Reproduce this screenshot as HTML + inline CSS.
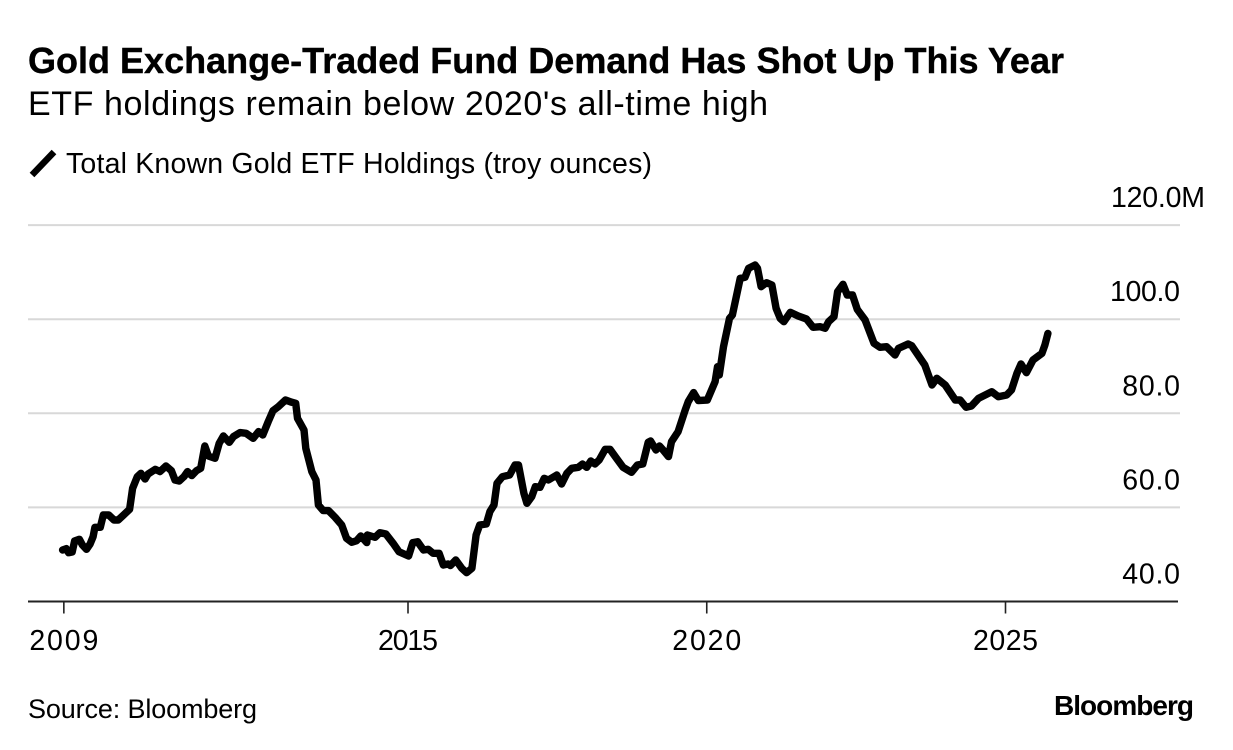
<!DOCTYPE html>
<html lang="en">
<head>
<meta charset="utf-8">
<title>Gold Exchange-Traded Fund Demand Has Shot Up This Year</title>
<style>
html,body{margin:0;padding:0;background:#fff;width:1233px;height:750px;overflow:hidden}
svg{display:block}
text{font-family:"Liberation Sans",Arial,sans-serif;fill:#000}
</style>
</head>
<body>
<svg id="chart" width="1233" height="750" viewBox="0 0 1233 750" xmlns="http://www.w3.org/2000/svg">
<rect x="0" y="0" width="1233" height="750" fill="#fff"/>
<text x="28" y="73" font-size="36" font-weight="700" textLength="1036" lengthAdjust="spacing" stroke="#000" stroke-width="0.4">Gold Exchange-Traded Fund Demand Has Shot Up This Year</text>
<text x="28" y="115" font-size="34" textLength="740" lengthAdjust="spacing">ETF holdings remain below 2020's all-time high</text>
<line x1="32" y1="175" x2="54" y2="152" stroke="#000" stroke-width="6.5"/>
<text x="66" y="173" font-size="28.5" textLength="586" lengthAdjust="spacing">Total Known Gold ETF Holdings (troy ounces)</text>
<g id="grid"></g>
<g id="y-labels"></g>
<g id="x-axis"></g>
<path id="series" fill="none" stroke="#000" stroke-width="7.4" stroke-linejoin="round" stroke-linecap="round"></path>
<text x="28" y="718" font-size="27" textLength="229" lengthAdjust="spacing">Source: Bloomberg</text>
<text x="1054" y="715" font-size="28" font-weight="700" textLength="140" lengthAdjust="spacing">Bloomberg</text>
</svg>
<script>
var years = [2009.22,2009.28,2009.32,2009.38,2009.42,2009.50,2009.55,2009.62,2009.68,2009.73,2009.76,2009.85,2009.90,2009.99,2010.08,2010.15,2010.24,2010.34,2010.39,2010.47,2010.53,2010.60,2010.65,2010.77,2010.85,2010.95,2011.04,2011.10,2011.17,2011.25,2011.31,2011.38,2011.46,2011.53,2011.60,2011.66,2011.77,2011.84,2011.91,2012.01,2012.08,2012.19,2012.29,2012.41,2012.50,2012.57,2012.66,2012.74,2012.83,2012.95,2013.04,2013.12,2013.15,2013.26,2013.29,2013.39,2013.46,2013.50,2013.58,2013.67,2013.78,2013.89,2013.97,2014.06,2014.14,2014.21,2014.31,2014.32,2014.45,2014.53,2014.63,2014.75,2014.85,2015.01,2015.08,2015.16,2015.26,2015.34,2015.42,2015.52,2015.59,2015.67,2015.71,2015.80,2015.90,2015.98,2016.07,2016.14,2016.20,2016.31,2016.37,2016.44,2016.49,2016.58,2016.70,2016.79,2016.85,2016.94,2016.99,2017.07,2017.13,2017.21,2017.28,2017.35,2017.49,2017.57,2017.66,2017.74,2017.85,2017.92,2017.99,2018.06,2018.13,2018.20,2018.30,2018.38,2018.49,2018.60,2018.74,2018.84,2018.93,2019.02,2019.06,2019.15,2019.21,2019.27,2019.36,2019.41,2019.52,2019.64,2019.69,2019.78,2019.86,2020.01,2020.14,2020.18,2020.21,2020.28,2020.38,2020.43,2020.56,2020.64,2020.70,2020.81,2020.85,2020.91,2021.00,2021.09,2021.16,2021.23,2021.29,2021.40,2021.53,2021.67,2021.78,2021.90,2021.98,2022.04,2022.13,2022.19,2022.28,2022.35,2022.44,2022.52,2022.65,2022.80,2022.90,2023.01,2023.15,2023.21,2023.37,2023.43,2023.65,2023.77,2023.85,2023.99,2024.16,2024.24,2024.34,2024.43,2024.55,2024.77,2024.88,2025.02,2025.10,2025.19,2025.26,2025.35,2025.46,2025.61,2025.66,2025.71];
var holdings = [50.95,51.23,50.38,50.52,52.86,53.21,52.01,51.09,52.22,53.78,55.77,55.77,58.39,58.39,57.32,57.32,58.39,59.59,64.05,66.53,67.24,66.04,67.10,68.09,67.60,68.80,67.81,65.83,65.61,66.53,67.60,66.75,67.81,68.31,73.05,70.93,70.43,73.62,75.18,73.83,75.04,75.89,75.74,74.68,76.10,75.39,78.22,80.56,81.41,82.83,82.40,82.12,78.93,76.45,72.56,67.60,65.83,60.51,59.31,59.31,57.89,56.26,53.43,52.58,52.93,53.92,52.51,54.14,53.64,54.63,54.35,52.36,50.59,49.67,52.51,52.72,50.95,51.09,50.24,50.24,47.76,47.97,47.62,48.82,47.05,46.13,47.05,54.14,56.26,56.47,59.10,60.51,65.12,66.53,66.89,69.01,69.01,62.99,60.87,62.28,64.41,64.27,66.18,65.83,66.89,64.98,67.24,68.31,68.52,69.23,68.52,69.86,69.23,70.08,72.34,72.34,70.43,68.52,67.46,69.01,69.23,73.83,74.11,72.20,73.05,72.20,70.79,73.97,76.10,80.70,82.47,84.39,82.69,82.82,86.72,89.91,88.14,94.16,100.18,100.89,108.68,108.90,110.81,111.52,110.81,106.91,107.76,107.27,102.31,100.18,99.47,101.46,100.68,100.04,98.27,98.41,98.06,99.47,100.54,105.85,107.41,105.14,105.14,102.09,99.83,94.87,94.02,94.16,92.39,93.80,94.73,94.37,90.26,86.01,87.43,86.01,82.82,82.82,81.27,81.55,83.18,84.59,83.53,83.89,84.95,88.49,90.47,88.63,91.33,92.74,94.51,96.99];
var yTicks = [120,100,80,60,40];
var yTickLabels = ["120.0M","100.0","80.0","60.0","40.0"];
var xTicks = [2009.24,2015,2020,2025];
var xTickLabels = ["2009","2015","2020","2025"];

var NS = "http://www.w3.org/2000/svg";
function xScale(year){ return 408 + (year - 2015) * 59.75; }
function yScale(value){ return 601.5 - (value - 40) * 4.705; }
function make(tag, attrs, parent){
  var el = document.createElementNS(NS, tag);
  for (var k in attrs) el.setAttribute(k, attrs[k]);
  parent.appendChild(el);
  return el;
}
// Approximates the proportional figures of the original typeface.
function labelWidth(s){
  var w = 0;
  s.split("").forEach(function(c){
    if (c === ".") w += 6;
    else if (c === "M") w += 24;
    else if (c === "1") w += 12.25;
    else if (c === "5") w += 13.25;
    else w += 17.25;
  });
  return w;
}

var grid = document.getElementById("grid");
var yLabels = document.getElementById("y-labels");
yTicks.forEach(function(t, i){
  var y = yScale(t);
  if (t !== 40) {
    var gl = make("line", {x1:28, x2:1180, y1:y, y2:y, stroke:"#d8d8d8", "stroke-width":2}, grid);
    
    
  }
  var lab = make("text", {x: i === 0 ? 1111 : 1180, y: y - 18, "font-size":28.5, "text-anchor": i === 0 ? "start" : "end", textLength: labelWidth(yTickLabels[i]), lengthAdjust:"spacing"}, yLabels);
  lab.textContent = yTickLabels[i];
  
  
});

var xAxis = document.getElementById("x-axis");
var base = yScale(40);
var axisLine = make("line", {x1:28, x2:1178, y1:base, y2:base, stroke:"#222", "stroke-width":2}, xAxis);


xTicks.forEach(function(t, i){
  var x = xScale(t);
  var tick = make("line", {x1:x, x2:x, y1:base, y2:base + 12, stroke:"#222", "stroke-width":1.6}, xAxis);
  
  
  var lab = make("text", {x:x, y:650, "font-size":28.5, "text-anchor":"middle", textLength: labelWidth(xTickLabels[i]), lengthAdjust:"spacing"}, xAxis);
  lab.textContent = xTickLabels[i];
  
  
});

var d = years.map(function(yr, i){
  return (i ? "L" : "M") + xScale(yr).toFixed(1) + " " + yScale(holdings[i]).toFixed(1);
}).join("");
document.getElementById("series").setAttribute("d", d);
</script>
</body>
</html>
